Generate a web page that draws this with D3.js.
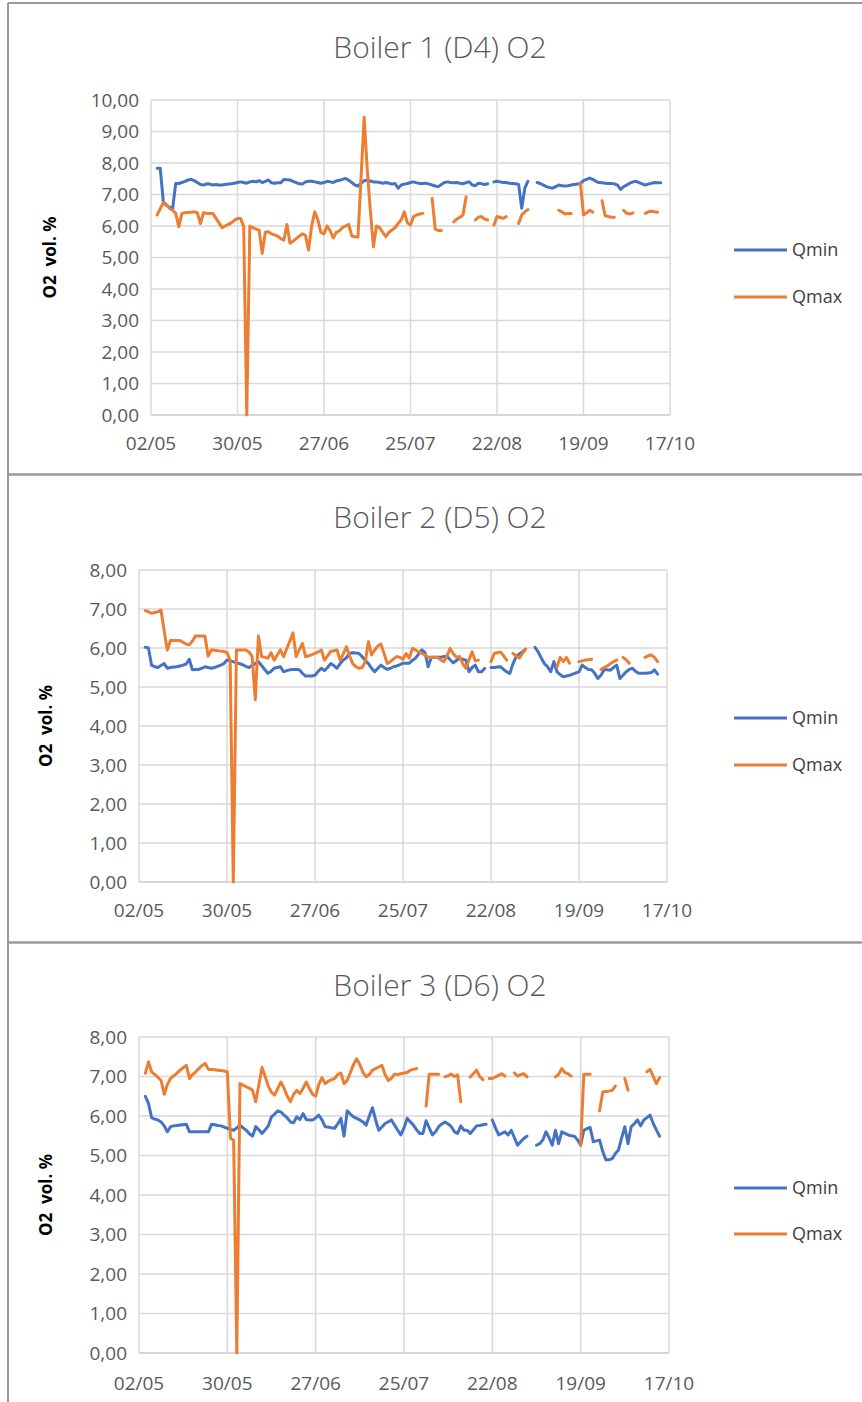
<!DOCTYPE html>
<html><head><meta charset="utf-8">
<script src="https://cdn.jsdelivr.net/npm/d3@7"></script>
<style>
html,body{margin:0;padding:0;background:#fff;}
svg{display:block;}
text{font-family:"Open Sans",sans-serif;}
</style></head><body>
<svg id="chart" width="862" height="1402"></svg>
<script>
// ---------- data ----------
const tickLabels = ["02/05","30/05","27/06","25/07","22/08","19/09","17/10"];
const tickDates  = ["2019-05-02","2019-05-30","2019-06-27","2019-07-25","2019-08-22","2019-09-19","2019-10-17"];
const firstDate = "2019-05-04"; // first daily reading (values below are consecutive days)
const seriesNames = ["Qmin","Qmax"];
const titles = ["Boiler 1 (D4) O2","Boiler 2 (D5) O2","Boiler 3 (D6) O2"];
const yAxisTitle = "O2  vol. %";
const yMaxes = [10, 8, 8];

// Boiler 1
const b1Qmin = [
7.83,7.83,6.75,6.65,6.6,6.55,7.35,7.35,7.38,7.42,
7.46,7.48,7.44,7.38,7.32,7.3,7.34,7.33,7.3,7.32,
7.3,7.3,7.32,7.33,7.34,7.36,7.38,7.4,7.38,7.36,
7.4,7.42,7.4,7.44,7.38,7.42,7.46,7.37,7.36,7.37,
7.37,7.48,7.47,7.46,7.42,7.38,7.34,7.33,7.4,7.42,
7.42,7.4,7.38,7.36,7.38,7.42,7.4,7.38,7.43,7.45,
7.48,7.51,7.45,7.38,7.3,7.27,7.35,7.44,7.45,7.43,
7.4,7.4,7.38,7.36,7.38,7.36,7.33,7.35,7.2,7.3,
7.33,7.35,7.38,7.4,7.37,7.35,7.35,7.36,7.33,7.3,
7.27,7.25,7.32,7.38,7.4,7.38,7.37,7.38,7.36,7.34,
7.38,7.4,7.3,7.28,7.36,7.34,7.32,7.34,null,7.4,
7.42,7.4,7.38,7.38,7.36,7.35,7.34,7.32,6.56,7.2,
7.42,null,null,7.38,7.35,7.3,7.25,7.22,7.2,7.25,
7.3,7.28,7.27,7.28,7.3,7.32,7.33,7.35,7.44,7.48,
7.52,7.48,7.42,7.38,7.37,7.36,7.35,7.35,7.34,7.3,
7.16,7.25,7.3,7.36,7.4,7.42,7.38,7.34,7.3,7.33,
7.36,7.38,7.37,7.37];
const b1Qmax = [
6.35,6.55,6.74,6.68,6.56,6.5,6.4,5.98,6.4,6.42,
6.43,6.44,6.45,6.42,6.08,6.42,6.4,6.4,6.4,6.25,
6.1,5.95,6.0,6.05,6.1,6.18,6.24,6.24,5.98,0,
6.0,5.95,5.9,5.87,5.13,5.8,5.82,5.75,5.72,5.68,
5.6,5.55,6.05,5.45,5.52,5.6,5.68,5.75,5.7,5.24,
6.0,6.45,6.2,5.8,5.75,6.0,5.85,5.62,5.8,5.85,
5.95,6.0,6.05,5.68,5.66,5.65,7.55,9.45,7.8,6.5,
5.34,6.0,5.95,5.8,5.66,5.8,5.87,5.95,6.08,6.2,
6.45,6.1,6.03,6.3,6.35,6.38,6.4,null,null,6.88,
5.9,5.86,5.86,null,null,null,6.13,6.22,6.28,6.35,
6.93,null,null,6.19,6.28,6.3,6.22,6.19,null,6.03,
6.3,6.27,6.24,6.3,null,null,null,6.08,6.35,6.45,
6.52,null,null,null,null,null,null,null,null,null,
6.5,6.45,6.38,6.4,6.4,null,null,7.35,6.35,6.42,
6.5,6.44,null,null,6.8,6.33,6.3,6.28,6.28,null,
null,6.5,6.4,6.38,6.42,null,null,null,6.4,6.45,
6.47,6.45,6.44,null];

// Boiler 2
const b2Qmin = [
6.02,6.0,5.56,5.52,5.5,5.55,5.6,5.48,5.5,5.51,
5.52,5.54,5.56,5.59,5.71,5.44,5.45,5.45,5.48,5.52,
5.5,5.48,5.5,5.53,5.56,5.6,5.69,5.67,5.65,5.62,
5.6,5.57,5.53,5.5,5.55,5.6,5.65,5.55,5.45,5.35,
5.4,5.48,5.5,5.52,5.39,5.42,5.44,5.45,5.45,5.44,
5.35,5.28,5.28,5.28,5.3,5.4,5.48,5.42,5.5,5.6,
5.55,5.48,5.6,5.69,5.75,5.86,5.88,5.87,5.86,5.78,
5.68,5.6,5.48,5.39,5.48,5.56,5.5,5.45,5.48,5.52,
5.54,5.57,5.61,5.61,5.61,5.68,5.74,5.85,5.95,5.88,
5.52,5.76,5.76,5.76,5.76,5.78,5.79,5.7,5.62,5.68,
5.74,5.71,5.69,5.39,5.5,5.56,5.39,5.39,5.48,null,
5.5,5.5,5.51,5.52,5.45,5.39,5.35,5.6,5.78,5.85,
5.9,5.97,null,null,6.02,5.9,5.74,5.6,5.52,5.39,
5.65,5.39,5.32,5.26,5.28,5.3,5.33,5.36,5.39,5.56,
5.5,5.45,5.44,5.35,5.22,5.3,5.44,5.44,5.43,5.5,
5.56,5.22,5.3,5.39,5.45,5.48,5.4,5.35,5.35,5.35,
5.36,5.37,5.44,5.33];
const b2Qmax = [
6.96,6.93,6.89,6.91,6.93,6.97,6.45,5.95,6.19,6.19,
6.19,6.19,6.15,6.1,6.08,6.18,6.31,6.31,6.31,6.3,
5.79,5.95,5.94,5.93,5.92,5.91,5.88,5.69,0,5.95,
5.95,5.95,5.95,5.9,5.78,4.67,6.31,5.78,5.76,5.74,
5.88,5.69,5.82,5.95,5.78,5.98,6.18,6.39,5.78,5.95,
6.12,5.78,5.8,5.83,5.86,5.9,5.95,5.69,5.8,5.91,
5.93,5.95,5.69,5.85,6.03,5.8,5.6,5.52,5.48,5.5,
5.65,6.16,5.82,5.95,6.05,6.1,5.85,5.6,5.65,5.72,
5.78,5.76,5.71,5.86,5.74,5.99,5.95,5.9,5.86,5.82,
5.76,5.76,5.76,5.76,5.7,5.65,5.8,5.99,5.85,5.76,
5.78,5.6,5.48,5.7,5.9,5.67,5.69,null,null,null,
5.65,5.86,5.88,5.9,5.8,5.69,null,5.86,5.8,5.74,
5.86,5.97,null,null,null,null,null,null,null,null,
null,5.52,5.76,5.65,5.76,5.61,null,null,5.65,5.67,
5.69,5.7,5.71,null,null,5.45,5.5,5.54,5.6,5.65,
5.69,null,5.76,5.7,5.61,null,null,null,null,5.76,
5.8,5.82,5.76,5.65];

// Boiler 3
const b3Qmin = [
6.5,6.32,5.96,5.92,5.9,5.85,5.75,5.6,5.73,5.75,
5.76,5.77,5.78,5.79,5.6,5.6,5.6,5.6,5.6,5.6,
5.6,5.79,5.78,5.76,5.75,5.72,5.69,5.66,5.64,5.7,
5.77,5.7,5.64,5.55,5.49,5.73,5.65,5.56,5.65,5.75,
5.98,6.05,6.13,6.1,6.02,5.95,5.85,5.83,5.98,5.91,
6.06,5.91,5.9,5.9,5.95,6.02,5.9,5.73,5.72,5.7,
5.69,5.8,5.94,5.49,6.13,6.05,5.98,5.94,5.9,5.85,
5.77,6.0,6.21,5.9,5.64,5.72,5.81,5.85,5.9,5.77,
5.64,5.52,5.7,5.94,5.85,5.77,5.65,5.56,5.56,5.88,
5.7,5.52,5.6,5.73,5.8,5.85,5.8,5.73,5.6,5.56,
5.75,5.64,5.64,5.56,5.65,5.75,5.76,5.78,5.79,null,
5.9,5.7,5.52,5.56,5.6,5.52,5.64,5.45,5.26,5.35,
5.43,5.49,null,null,5.26,5.3,5.39,5.6,5.45,5.26,
5.64,5.3,5.6,5.56,5.52,5.5,5.49,5.4,5.26,5.64,
5.68,5.71,5.35,5.37,5.39,5.1,4.89,4.89,4.92,5.05,
5.14,5.45,5.73,5.3,5.73,5.8,5.9,5.75,5.9,5.96,
6.02,5.81,5.65,5.49];
const b3Qmax = [
7.08,7.37,7.12,7.05,6.98,6.9,6.55,6.8,6.95,7.02,
7.08,7.16,7.22,7.28,6.95,7.05,7.12,7.2,7.28,7.33,
7.18,7.18,7.17,7.16,7.15,7.14,7.12,5.43,5.39,0,
6.82,6.78,6.74,6.7,6.65,6.36,6.8,7.23,7.0,6.75,
6.6,6.53,6.7,6.86,6.7,6.5,6.36,6.55,6.65,6.57,
6.7,6.86,6.7,6.55,6.5,6.8,6.97,6.82,6.88,6.92,
6.95,7.05,7.09,6.82,6.9,7.1,7.3,7.45,7.3,7.1,
6.99,7.05,7.16,7.2,7.24,7.28,7.05,6.9,6.95,7.06,
7.05,7.07,7.09,7.1,7.16,7.18,7.2,null,null,6.25,
7.06,7.06,7.06,7.06,null,6.99,7.02,7.06,7.0,7.04,
6.36,null,null,6.99,7.07,7.16,7.0,6.92,null,6.95,
6.95,6.99,7.03,7.07,7.01,null,null,7.09,7.01,7.05,
7.07,6.99,null,null,null,null,null,null,null,null,
6.99,7.05,7.2,7.1,7.07,7.01,null,null,5.26,7.06,
7.06,7.06,null,null,6.13,6.61,6.62,6.63,6.65,6.76,
null,null,6.95,6.65,null,null,null,null,null,7.12,
7.18,7.0,6.82,6.97];

// ---------- layout ----------
const colors = {Qmin:"#4472C4", Qmax:"#ED7D31"};
const panels = [
  {title:titles[0], qmin:b1Qmin, qmax:b1Qmax, ymax:yMaxes[0],
   l:151, r:670, t:100, b:415, titleY:58, xLabY:450, yTitleX:50, legY:[250,297]},
  {title:titles[1], qmin:b2Qmin, qmax:b2Qmax, ymax:yMaxes[1],
   l:139, r:667, t:570, b:882, titleY:528, xLabY:917, yTitleX:46, legY:[718,765]},
  {title:titles[2], qmin:b3Qmin, qmax:b3Qmax, ymax:yMaxes[2],
   l:139, r:669, t:1037, b:1353, titleY:996, xLabY:1390, yTitleX:46, legY:[1188,1234]}
];

const svg = d3.select("#chart");
const parse = d3.utcParse("%Y-%m-%d");
const start = parse(firstDate);
const tDates = tickDates.map(parse);
const fmt = v => d3.format(".2f")(v).replace(".", ",");

// panel frames
const borderColor = "#9a9a9a";
svg.append("line").attr("x1",8).attr("x2",8).attr("y1",3).attr("y2",1402)
  .attr("stroke",borderColor).attr("stroke-width",2);
svg.append("line").attr("x1",8).attr("x2",862).attr("y1",3).attr("y2",3)
  .attr("stroke",borderColor).attr("stroke-width",2);
[474.5, 942.5].forEach(y=>{
  svg.append("line").attr("x1",8).attr("x2",862).attr("y1",y).attr("y2",y)
    .attr("stroke",borderColor).attr("stroke-width",2.5);
});

panels.forEach(p=>{
  const g = svg.append("g");
  const x = d3.scaleUtc().domain([tDates[0], tDates[tDates.length-1]]).range([p.l, p.r]);
  const y = d3.scaleLinear().domain([0, p.ymax]).range([p.b, p.t]);
  const yt = d3.range(0, p.ymax + 0.001, 1);

  // horizontal gridlines
  g.append("g").selectAll("line").data(yt).join("line")
    .attr("x1",p.l).attr("x2",p.r).attr("y1",d=>y(d)).attr("y2",d=>y(d))
    .attr("stroke",d=>d===0?"#c8c8c8":"#d9d9d9").attr("stroke-width",1.5);
  // vertical gridlines
  g.append("g").selectAll("line").data(tDates).join("line")
    .attr("x1",d=>x(d)).attr("x2",d=>x(d)).attr("y1",p.t).attr("y2",p.b)
    .attr("stroke","#d9d9d9").attr("stroke-width",1.5);

  // y tick labels
  g.append("g").selectAll("text").data(yt).join("text")
    .attr("x",p.l-12).attr("y",d=>y(d)).attr("dy","0.36em")
    .attr("text-anchor","end").attr("font-size",19).attr("fill","#595959")
    .text(fmt);
  // x tick labels
  g.append("g").selectAll("text").data(tDates).join("text")
    .attr("x",d=>x(d)).attr("y",p.xLabY)
    .attr("text-anchor","middle").attr("font-size",19).attr("fill","#595959")
    .text((d,i)=>tickLabels[i]);

  // title
  g.append("text").attr("x",440).attr("y",p.titleY).attr("text-anchor","middle")
    .attr("font-size",30).attr("font-weight",300).attr("fill","#595959").text(p.title);

  // y axis title (keep the double space)
  g.append("text")
    .attr("transform",`translate(${p.yTitleX},${(p.t+p.b)/2}) rotate(-90)`)
    .attr("text-anchor","middle").attr("dy","0.35em")
    .attr("font-size",17).attr("font-weight","bold").attr("fill","#000")
    .text(yAxisTitle.replace(/ /g, "\u00A0"));

  // series
  const line = d3.line()
    .defined(d=>d.v!==null)
    .x(d=>x(d.date)).y(d=>y(d.v))
    .curve(d3.curveLinear);
  [["Qmin",p.qmin],["Qmax",p.qmax]].forEach(([name,vals])=>{
    const data = vals.map((v,i)=>({date:d3.utcDay.offset(start,i), v:v}));
    g.append("path").datum(data)
      .attr("fill","none").attr("stroke",colors[name]).attr("stroke-width",3)
      .attr("stroke-linejoin","round").attr("stroke-linecap","round")
      .attr("d",line);
  });

  // legend
  seriesNames.forEach((name,i)=>{
    const ly = p.legY[i];
    g.append("line").attr("x1",734).attr("x2",787).attr("y1",ly).attr("y2",ly)
      .attr("stroke",colors[name]).attr("stroke-width",3);
    g.append("text").attr("x",792).attr("y",ly).attr("dy","0.36em")
      .attr("font-size",18).attr("fill","#404040").text(name);
  });
});
</script>
</body></html>
